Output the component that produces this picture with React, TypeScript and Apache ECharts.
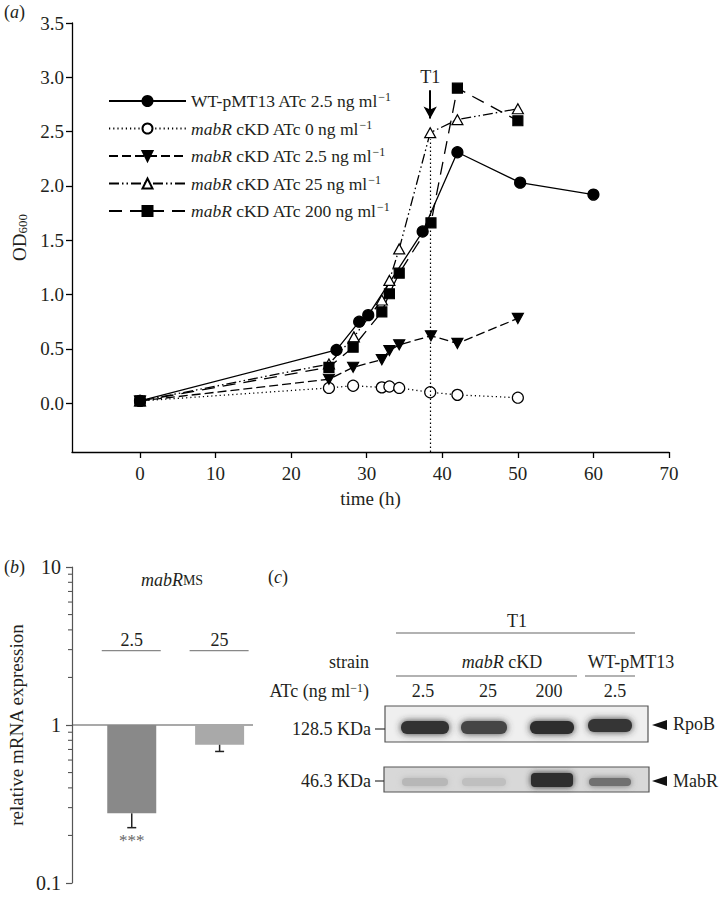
import React, { useEffect, useRef } from 'react';
import * as echarts from 'echarts';

const FONT = "'Liberation Serif', 'Times New Roman', Times, serif";
const INK = '#231f20';

// ---------- Panel (a): growth curves ----------
const seriesNames = [
  'WT-pMT13 ATc 2.5 ng ml-1',
  'mabR cKD ATc 0 ng ml-1',
  'mabR cKD ATc 2.5 ng ml-1',
  'mabR cKD ATc 25 ng ml-1',
  'mabR cKD ATc 200 ng ml-1',
];
const legendLabels = [
  'WT-pMT13 ATc 2.5 ng ml{sup|−1}',
  '{i|mabR} cKD ATc 0 ng ml{sup|−1}',
  '{i|mabR} cKD ATc 2.5 ng ml{sup|−1}',
  '{i|mabR} cKD ATc 25 ng ml{sup|−1}',
  '{i|mabR} cKD ATc 200 ng ml{sup|−1}',
];

const timeWT = [0, 26, 29, 30.2, 37.4, 42, 50.3, 60];
const odWT = [0.02, 0.49, 0.75, 0.81, 1.58, 2.31, 2.03, 1.92];
const time0 = [0, 25, 28.2, 32, 33, 34.3, 38.4, 42, 50];
const od0 = [0.02, 0.14, 0.16, 0.145, 0.153, 0.14, 0.1, 0.076, 0.05];
const time2_5 = [0, 25, 28.2, 32, 33, 34.3, 38.5, 42, 50];
const od2_5 = [0.02, 0.22, 0.33, 0.4, 0.485, 0.537, 0.62, 0.55, 0.78];
const time25 = [0, 25, 28.3, 32, 33, 34.3, 38.4, 42, 50];
const od25 = [0.02, 0.36, 0.61, 0.95, 1.13, 1.42, 2.49, 2.61, 2.71];
const time200 = [0, 25, 28.2, 32, 33, 34.3, 38.5, 42, 50];
const od200 = [0.02, 0.33, 0.515, 0.84, 1.007, 1.197, 1.66, 2.9, 2.6];

const t1Time = 38.4;
const t1Label = 'T1';
const xTickValues = [0, 10, 20, 30, 40, 50, 60, 70];
const yTickValues = [0, 0.5, 1, 1.5, 2, 2.5, 3, 3.5];

// ---------- Panel (b): relative mRNA expression ----------
const bCategories = ['2.5', '25'];
const bExpression = [0.276, 0.75];
const bErrorLow = [0.224, 0.68];
const bSignificance = ['***', ''];
const bMinorTicks = [0.2, 0.3, 0.4, 0.5, 0.6, 0.7, 0.8, 0.9, 2, 3, 4, 5, 6, 7, 8, 9];

// ---------- Panel (c): western blot ----------
const blotLanes = ['2.5', '25', '200', '2.5'];
const rpobIntensity = [0.92, 0.82, 0.95, 0.9];
const mabrIntensity = [0.22, 0.18, 0.95, 0.6];

const sup = { fontSize: 12, fontFamily: FONT, color: INK, verticalAlign: 'top', lineHeight: 12 };
const ital = { fontSize: 17.5, fontFamily: FONT, color: INK, fontStyle: 'italic' };

function gray(intensity: number) {
  const g = Math.round(225 - intensity * 190);
  return `rgb(${g},${g},${g})`;
}

function lineSeries(name: string, xs: number[], ys: number[], symbol: string, fill: string, dash: any, size: any) {
  return {
    type: 'line',
    name,
    xAxisIndex: 0,
    yAxisIndex: 0,
    data: xs.map((x, i) => [x, ys[i]]),
    symbol,
    symbolSize: size,
    showSymbol: true,
    itemStyle: { color: fill, borderColor: '#000', borderWidth: 1.2 },
    lineStyle: { color: '#000', width: 1.3, type: dash },
    emphasis: { disabled: true },
    silent: true,
  } as any;
}

function txt(text: string, x: number, y: number, align = 'left', extra: any = {}) {
  return {
    type: 'text',
    x,
    y,
    silent: true,
    style: { text, x: 0, y: 0, fontSize: 18, fontFamily: FONT, fill: INK, align, verticalAlign: 'middle', ...extra },
  };
}
function hline(x1: number, x2: number, y: number, stroke = '#666', w = 1.2) {
  return { type: 'line', silent: true, shape: { x1, y1: y, x2, y2: y }, style: { stroke, lineWidth: w } };
}

const lanePx = [425, 484, 552, 610];
const laneW = [54, 52, 50, 50];

function blotGraphics() {
  const els: any[] = [];
  const rich = {
    i: { fontSize: 18, fontFamily: FONT, fill: INK, fontStyle: 'italic' },
    n: { fontSize: 18, fontFamily: FONT, fill: INK },
    s: { fontSize: 12, fontFamily: FONT, fill: INK, verticalAlign: 'top', lineHeight: 12 },
  };
  els.push(txt('{n|(}{i|c}{n|)}', 268, 577, 'left', { rich }));
  els.push(txt(t1Label, 517, 621, 'center'));
  els.push(hline(396, 635, 633));
  els.push(txt('strain', 369, 662, 'right'));
  els.push(txt('{i|mabR}{n| cKD}', 502, 662, 'center', { rich }));
  els.push(hline(396, 577, 676));
  els.push(txt('WT-pMT13', 631, 662, 'center'));
  els.push(hline(585, 635, 676));
  els.push(txt('{n|ATc (ng ml}{s|−1}{n|)}', 369, 691, 'right', { rich }));
  const labelPx = [423, 488, 549, 615];
  blotLanes.forEach((l, i) => els.push(txt(l, labelPx[i], 691, 'center')));
  // RpoB box
  els.push({ type: 'rect', silent: true, shape: { x: 385, y: 706, width: 263, height: 36 }, style: { fill: '#efefef', stroke: '#555', lineWidth: 1.2 } });
  rpobIntensity.forEach((v, i) => {
    els.push({
      type: 'rect', silent: true,
      shape: { x: lanePx[i] - laneW[i] / 2 + 3, y: i === 3 ? 719 : 721, width: laneW[i] - 6, height: 13, r: 6 },
      style: { fill: gray(v), shadowBlur: 7, shadowColor: gray(v) },
    });
  });
  els.push(txt('128.5 KDa', 371, 729, 'right'));
  els.push(hline(375, 385, 729, '#333', 1.2));
  els.push({ type: 'polygon', silent: true, shape: { points: [[652, 725], [667, 720], [667, 730]] }, style: { fill: '#111' } });
  els.push(txt('RpoB', 673, 724, 'left'));
  // MabR box
  els.push({ type: 'rect', silent: true, shape: { x: 384, y: 767, width: 265, height: 25 }, style: { fill: '#d8d8d8', stroke: '#555', lineWidth: 1.2 } });
  mabrIntensity.forEach((v, i) => {
    const big = v > 0.9;
    els.push({
      type: 'rect', silent: true,
      shape: { x: lanePx[i] - laneW[i] / 2 + 4, y: big ? 773 : 778, width: laneW[i] - 8, height: big ? 14 : 8, r: 4 },
      style: { fill: gray(v), shadowBlur: 6, shadowColor: gray(v) },
    });
  });
  els.push(txt('46.3 KDa', 371, 781, 'right'));
  els.push(hline(375, 384, 781, '#333', 1.2));
  els.push({ type: 'polygon', silent: true, shape: { points: [[652, 781], [667, 776], [667, 786]] }, style: { fill: '#111' } });
  els.push(txt('MabR', 673, 781, 'left'));
  return els;
}

export default function App() {
  const ref = useRef<HTMLDivElement>(null);
  useEffect(() => {
    document.body.style.margin = '0';
    if (!ref.current) return;
    const chart = echarts.init(ref.current, undefined, { renderer: 'svg' });
    const yMinA = -0.45;

    const markLine = {
      silent: true,
      animation: false,
      data: [
        [
          { coord: [t1Time, yMinA], symbol: 'none', lineStyle: { type: [1.5, 2.5], color: '#000', width: 1.2 }, label: { show: false } },
          { coord: [t1Time, 2.43], symbol: 'none' },
        ],
        [
          {
            coord: [t1Time, 2.88], symbol: 'none', lineStyle: { type: 'solid', color: '#000', width: 2 },
            label: { show: true, position: 'start', formatter: t1Label, fontSize: 18, fontFamily: FONT, color: INK, distance: 4 },
          },
          { coord: [t1Time, 2.62], symbol: 'arrow', symbolSize: [10, 12] },
        ],
      ],
    };

    const sWT = lineSeries(seriesNames[0], timeWT, odWT, 'circle', '#000', 'solid', 11);
    const s0 = lineSeries(seriesNames[1], time0, od0, 'circle', '#fff', [1.2, 3], 11);
    const s25a = lineSeries(seriesNames[2], time2_5, od2_5, 'path://M0,0L10,0L5,9Z', '#000', [9, 4], [11, 10]);
    const s25 = lineSeries(seriesNames[3], time25, od25, 'triangle', '#fff', [10, 3, 1.5, 3, 1.5, 3], [11, 10]);
    const s200 = lineSeries(seriesNames[4], time200, od200, 'rect', '#000', [13, 8], 10);
    s25.markLine = markLine;

    const option: any = {
      animation: false,
      textStyle: { fontFamily: FONT, color: INK },
      grid: [
        { left: 72, top: 23, width: 597, height: 429 },
        { left: 72, top: 567, width: 181, height: 316 },
      ],
      legend: {
        orient: 'vertical',
        left: 103,
        top: 86,
        itemWidth: 77,
        itemHeight: 12.5,
        itemGap: 7.5,
        selectedMode: false,
        data: seriesNames,
        formatter: (name: string) => legendLabels[seriesNames.indexOf(name)],
        textStyle: {
          fontSize: 17.5,
          fontFamily: FONT,
          color: INK,
          lineHeight: 20,
          rich: { i: ital, sup },
        },
      },
      xAxis: [
        {
          gridIndex: 0,
          type: 'value',
          min: -9,
          max: 70,
          axisLine: { onZero: false, lineStyle: { color: '#000', width: 1.3 } },
          axisTick: { show: true, length: 6, customValues: xTickValues, lineStyle: { color: '#000', width: 1.3 } },
          axisLabel: { customValues: xTickValues, fontSize: 19, fontFamily: FONT, color: INK, margin: 12 },
          splitLine: { show: false },
          name: 'time (h)',
          nameLocation: 'middle',
          nameGap: 37,
          nameTextStyle: { fontSize: 19, fontFamily: FONT, color: INK },
        },
        { gridIndex: 1, type: 'value', min: -0.68, max: 1.38, show: false },
      ],
      yAxis: [
        {
          gridIndex: 0,
          type: 'value',
          min: yMinA,
          max: 3.5,
          axisLine: { show: true, onZero: false, lineStyle: { color: '#000', width: 1.3 } },
          axisTick: { show: true, length: 6, customValues: yTickValues, lineStyle: { color: '#000', width: 1.3 } },
          axisLabel: { customValues: yTickValues, formatter: (v: number) => v.toFixed(1), fontSize: 19, fontFamily: FONT, color: INK, margin: 8 },
          splitLine: { show: false },
          name: '{a|OD}{b|600}',
          nameLocation: 'middle',
          nameGap: 27,
          nameTextStyle: {
            fontSize: 19, fontFamily: FONT, color: INK,
            rich: {
              a: { fontSize: 19, fontFamily: FONT, color: INK, lineHeight: 22, verticalAlign: 'bottom' },
              b: { fontSize: 13, fontFamily: FONT, color: INK, lineHeight: 12, verticalAlign: 'bottom' },
            },
          },
        },
        {
          gridIndex: 1,
          type: 'log',
          logBase: 10,
          min: 0.1,
          max: 10,
          axisLine: { show: true, onZero: false, lineStyle: { color: '#555', width: 1.2 } },
          axisTick: { show: true, length: 6, lineStyle: { color: '#555', width: 1.2 } },
          axisLabel: { fontSize: 20, fontFamily: FONT, color: INK, margin: 11, formatter: (v: number) => String(v) },
          minorTick: { show: false },
          splitLine: { show: false },
          name: 'relative mRNA expression',
          nameLocation: 'middle',
          nameGap: 46,
          nameTextStyle: { fontSize: 19, fontFamily: FONT, color: INK },
        },
      ],
      series: [
        s0, s25a, s25, sWT, s200,
        {
          type: 'custom',
          xAxisIndex: 1,
          yAxisIndex: 1,
          silent: true,
          data: bMinorTicks.map((v) => [0, v]),
          encode: { x: 0, y: 1 },
          renderItem: (params: any, api: any) => {
            const y = api.coord([0, api.value(1)])[1];
            const x = params.coordSys.x;
            return { type: 'line', shape: { x1: x - 4, y1: y, x2: x, y2: y }, style: { stroke: '#555', lineWidth: 1.1 } };
          },
        },
        {
          type: 'custom',
          xAxisIndex: 1,
          yAxisIndex: 1,
          silent: true,
          data: bCategories.map((c, i) => [i, bExpression[i], bErrorLow[i]]),
          encode: { x: 0, y: 1 },
          renderItem: (params: any, api: any) => {
            const i = api.value(0);
            const top = api.coord([i, 1]);
            const bot = api.coord([i, api.value(1)]);
            const err = api.coord([i, api.value(2)]);
            const bracket = api.coord([i, 2.96]);
            const lab = api.coord([i, 3.45]);
            const star = api.coord([i, 0.185]);
            const cs = params.coordSys;
            const w = 49;
            const fills = ['#898989', '#a9a9a9'];
            const children: any[] = [];
            if (params.dataIndex === 0) {
              children.push({ type: 'line', shape: { x1: cs.x, y1: top[1], x2: cs.x + cs.width, y2: top[1] }, style: { stroke: '#555', lineWidth: 1.1 } });
            }
            children.push({ type: 'rect', shape: { x: top[0] - w / 2, y: top[1], width: w, height: bot[1] - top[1] }, style: { fill: fills[i] } });
            children.push({ type: 'line', shape: { x1: bot[0], y1: bot[1], x2: err[0], y2: err[1] }, style: { stroke: '#222', lineWidth: 1.5 } });
            children.push({ type: 'line', shape: { x1: err[0] - 4.5, y1: err[1], x2: err[0] + 4.5, y2: err[1] }, style: { stroke: '#222', lineWidth: 1.5 } });
            children.push({ type: 'line', shape: { x1: bracket[0] - 30, y1: bracket[1], x2: bracket[0] + 29, y2: bracket[1] }, style: { stroke: '#888', lineWidth: 1.2 } });
            children.push({ type: 'text', style: { text: bCategories[i], x: lab[0], y: lab[1], fontSize: 18, fontFamily: FONT, fill: INK, align: 'center', verticalAlign: 'middle' } });
            if (bSignificance[i]) {
              children.push({ type: 'text', style: { text: bSignificance[i], x: star[0], y: star[1], fontSize: 17, fontFamily: FONT, fill: '#666', align: 'center', verticalAlign: 'middle' } });
            }
            return { type: 'group', children };
          },
        },
      ],
      graphic: [
        txt('{n|(}{i|a}{n|)}', 4, 12, 'left', {
          rich: {
            i: { fontSize: 18, fontFamily: FONT, fill: INK, fontStyle: 'italic' },
            n: { fontSize: 18, fontFamily: FONT, fill: INK },
          },
        }),
        txt('{n|(}{i|b}{n|)}', 4, 567, 'left', {
          rich: {
            i: { fontSize: 18, fontFamily: FONT, fill: INK, fontStyle: 'italic' },
            n: { fontSize: 18, fontFamily: FONT, fill: INK },
          },
        }),
        txt('{i|mabR}{s|MS}', 172, 580, 'center', {
          rich: {
            i: { fontSize: 18, fontFamily: FONT, fill: INK, fontStyle: 'italic' },
            s: { fontSize: 14, fontFamily: FONT, fill: INK },
          },
        }),
        ...blotGraphics(),
      ],
    };
    chart.setOption(option);
    return () => chart.dispose();
  }, []);
  return <div ref={ref} style={{ width: 726, height: 903 }} />;
}
